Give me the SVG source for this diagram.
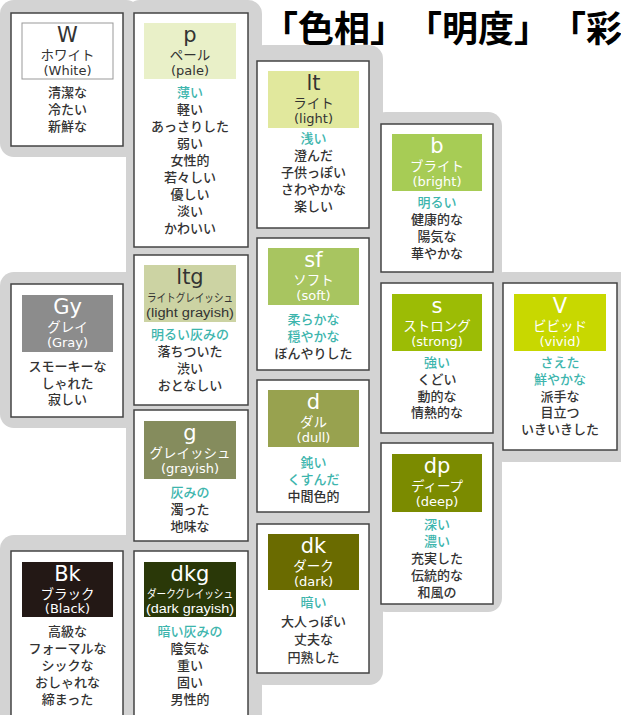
<svg xmlns="http://www.w3.org/2000/svg" width="621" height="715" viewBox="0 0 621 715">
<style>
.bg{fill:#d3d3d3}
.box{fill:#fff;stroke:#444;stroke-width:1.5}
text{font-family:"Liberation Sans","Noto Sans CJK JP",sans-serif;text-anchor:middle}
.big{font-family:"DejaVu Sans","Noto Sans CJK JP",sans-serif;font-size:21px}
.kana{font-size:13.5px}
.en{font-family:"DejaVu Sans","Noto Sans CJK JP",sans-serif;font-size:13px}
.d{font-size:13px;fill:#333;font-weight:500}
.t{font-size:13px;fill:#3db5ad;font-weight:500}
.w{fill:#fff}
.k{fill:#333}
.title{font-family:"Noto Sans CJK JP",sans-serif;font-size:36px;font-weight:bold;fill:#000;text-anchor:start;text-spacing-trim:space-all}
</style>
<g id="background">
<rect class="bg" x="0" y="0" width="140" height="157" rx="14"/>
<rect class="bg" x="126" y="0" width="136" height="730" rx="14"/>
<rect class="bg" x="250" y="45" width="133" height="640" rx="14"/>
<rect class="bg" x="372" y="112" width="130" height="500" rx="14"/>
<rect class="bg" x="490" y="272" width="150" height="190" rx="14"/>
<rect class="bg" x="0" y="272" width="140" height="156" rx="14"/>
<rect class="bg" x="0" y="535" width="140" height="200" rx="14"/>
</g>
<g id="title">
<text class="title" x="262" y="42">「色相」</text>
<text class="title" x="406" y="42">「明度」</text>
<text class="title" x="550" y="42">「彩</text>
</g>

<g id="W">
<rect class="box" x="11" y="13" width="112" height="133"/>
<rect x="22" y="23" width="91" height="56" fill="#fff" stroke="#999" stroke-width="1"/>
<text class="big k" x="67.5" y="42">W</text>
<text class="kana k" x="67.5" y="60">ホワイト</text>
<text class="en k" x="67.5" y="75">(White)</text>
<text class="d" x="67.5" y="97">清潔な</text>
<text class="d" x="67.5" y="114">冷たい</text>
<text class="d" x="67.5" y="131">新鮮な</text>
</g>

<g id="p">
<rect class="box" x="134" y="13" width="114" height="234"/>
<rect x="144" y="23" width="92" height="56" fill="#e9f0c8"/>
<text class="big k" x="190" y="42">p</text>
<text class="kana k" x="190" y="60">ペール</text>
<text class="en k" x="190" y="75">(pale)</text>
<text class="t" x="190" y="97">薄い</text>
<text class="d" x="190" y="114">軽い</text>
<text class="d" x="190" y="131">あっさりした</text>
<text class="d" x="190" y="148">弱い</text>
<text class="d" x="190" y="165">女性的</text>
<text class="d" x="190" y="182">若々しい</text>
<text class="d" x="190" y="199">優しい</text>
<text class="d" x="190" y="216">淡い</text>
<text class="d" x="190" y="233">かわいい</text>
</g>

<g id="lt">
<rect class="box" x="257" y="61" width="112" height="167"/>
<rect x="268" y="71" width="91" height="57" fill="#e1e89d"/>
<text class="big k" x="313.5" y="90">lt</text>
<text class="kana k" x="313.5" y="108">ライト</text>
<text class="en k" x="313.5" y="123">(light)</text>
<text class="t" x="313.5" y="143">浅い</text>
<text class="d" x="313.5" y="160">澄んだ</text>
<text class="d" x="313.5" y="177">子供っぽい</text>
<text class="d" x="313.5" y="194">さわやかな</text>
<text class="d" x="313.5" y="211">楽しい</text>
</g>

<g id="b">
<rect class="box" x="381" y="124" width="112" height="148"/>
<rect x="392" y="134" width="90" height="57" fill="#a7cc55"/>
<text class="big w" x="437" y="153">b</text>
<text class="kana w" x="437" y="171">ブライト</text>
<text class="en w" x="437" y="186">(bright)</text>
<text class="t" x="437" y="207">明るい</text>
<text class="d" x="437" y="224">健康的な</text>
<text class="d" x="437" y="241">陽気な</text>
<text class="d" x="437" y="258">華やかな</text>
</g>

<g id="Gy">
<rect class="box" x="11" y="284" width="112" height="133"/>
<rect x="22" y="295" width="91" height="57" fill="#8c8c8c"/>
<text class="big w" x="67.5" y="314">Gy</text>
<text class="kana w" x="67.5" y="332">グレイ</text>
<text class="en w" x="67.5" y="347">(Gray)</text>
<text class="d" x="67.5" y="371">スモーキーな</text>
<text class="d" x="67.5" y="387.5">しゃれた</text>
<text class="d" x="67.5" y="404">寂しい</text>
</g>

<g id="ltg">
<rect class="box" x="134" y="255" width="114" height="150"/>
<rect x="144" y="265" width="92" height="57" fill="#ccd3a3"/>
<text class="big k" x="190" y="284">ltg</text>
<text class="k" x="190" y="302" font-size="11.5" textLength="86" lengthAdjust="spacingAndGlyphs">ライトグレイッシュ</text>
<text class="k" x="190" y="317" font-size="12.5" textLength="88" lengthAdjust="spacingAndGlyphs">(light grayish)</text>
<text class="t" x="190" y="339">明るい灰みの</text>
<text class="d" x="190" y="356">落ちついた</text>
<text class="d" x="190" y="373">渋い</text>
<text class="d" x="190" y="390">おとなしい</text>
</g>

<g id="sf">
<rect class="box" x="257" y="238" width="112" height="132"/>
<rect x="268" y="248" width="91" height="57" fill="#a8c560"/>
<text class="big w" x="313.5" y="267">sf</text>
<text class="kana w" x="313.5" y="285">ソフト</text>
<text class="en w" x="313.5" y="300">(soft)</text>
<text class="t" x="313.5" y="324">柔らかな</text>
<text class="t" x="313.5" y="341">穏やかな</text>
<text class="d" x="313.5" y="358">ぼんやりした</text>
</g>

<g id="s">
<rect class="box" x="381" y="283" width="112" height="150"/>
<rect x="392" y="294" width="90" height="57" fill="#9cbc05"/>
<text class="big w" x="437" y="313">s</text>
<text class="kana w" x="437" y="331">ストロング</text>
<text class="en w" x="437" y="346">(strong)</text>
<text class="t" x="437" y="367">強い</text>
<text class="d" x="437" y="384">くどい</text>
<text class="d" x="437" y="400.5">動的な</text>
<text class="d" x="437" y="417">情熱的な</text>
</g>

<g id="V">
<rect class="box" x="503" y="283" width="114" height="167"/>
<rect x="514" y="294" width="92" height="57" fill="#c8d800"/>
<text class="big w" x="560" y="313">V</text>
<text class="kana w" x="560" y="331">ビビッド</text>
<text class="en w" x="560" y="346">(vivid)</text>
<text class="t" x="560" y="367">さえた</text>
<text class="t" x="560" y="384">鮮やかな</text>
<text class="d" x="560" y="400.5">派手な</text>
<text class="d" x="560" y="417">目立つ</text>
<text class="d" x="560" y="434">いきいきした</text>
</g>

<g id="g">
<rect class="box" x="134" y="410" width="114" height="131"/>
<rect x="144" y="421" width="92" height="58" fill="#858c5d"/>
<text class="big w" x="190" y="440">g</text>
<text class="kana w" x="190" y="458">グレイッシュ</text>
<text class="en w" x="190" y="473">(grayish)</text>
<text class="t" x="190" y="497">灰みの</text>
<text class="d" x="190" y="514">濁った</text>
<text class="d" x="190" y="531">地味な</text>
</g>

<g id="d">
<rect class="box" x="257" y="380" width="112" height="132"/>
<rect x="268" y="390" width="91" height="57" fill="#98a24f"/>
<text class="big w" x="313.5" y="409">d</text>
<text class="kana w" x="313.5" y="427">ダル</text>
<text class="en w" x="313.5" y="442">(dull)</text>
<text class="t" x="313.5" y="467">鈍い</text>
<text class="t" x="313.5" y="484">くすんだ</text>
<text class="d" x="313.5" y="501">中間色的</text>
</g>

<g id="dp">
<rect class="box" x="381" y="443" width="112" height="161"/>
<rect x="392" y="454" width="90" height="58" fill="#7b8b00"/>
<text class="big w" x="437" y="473">dp</text>
<text class="kana w" x="437" y="491">ディープ</text>
<text class="en w" x="437" y="506">(deep)</text>
<text class="t" x="437" y="529">深い</text>
<text class="t" x="437" y="546">濃い</text>
<text class="d" x="437" y="563">充実した</text>
<text class="d" x="437" y="580">伝統的な</text>
<text class="d" x="437" y="597">和風の</text>
</g>

<g id="Bk">
<rect class="box" x="11" y="551" width="112" height="180"/>
<rect x="22" y="562" width="91" height="55" fill="#231815"/>
<text class="big w" x="67.5" y="581">Bk</text>
<text class="kana w" x="67.5" y="599">ブラック</text>
<text class="en w" x="67.5" y="613">(Black)</text>
<text class="d" x="67.5" y="636">高級な</text>
<text class="d" x="67.5" y="653">フォーマルな</text>
<text class="d" x="67.5" y="670">シックな</text>
<text class="d" x="67.5" y="687">おしゃれな</text>
<text class="d" x="67.5" y="704">締まった</text>
</g>

<g id="dkg">
<rect class="box" x="134" y="551" width="114" height="180"/>
<rect x="144" y="562" width="92" height="55" fill="#2a3808"/>
<text class="big w" x="190" y="581">dkg</text>
<text class="w" x="190" y="598" font-size="11.5" textLength="86" lengthAdjust="spacingAndGlyphs">ダークグレイッシュ</text>
<text class="w" x="190" y="613" font-size="12.5" textLength="88" lengthAdjust="spacingAndGlyphs">(dark grayish)</text>
<text class="t" x="190" y="636">暗い灰みの</text>
<text class="d" x="190" y="653">陰気な</text>
<text class="d" x="190" y="670">重い</text>
<text class="d" x="190" y="687">固い</text>
<text class="d" x="190" y="704">男性的</text>
</g>

<g id="dk">
<rect class="box" x="257" y="524" width="112" height="149"/>
<rect x="268" y="534" width="91" height="56" fill="#6a6b00"/>
<text class="big w" x="313.5" y="553">dk</text>
<text class="kana w" x="313.5" y="571">ダーク</text>
<text class="en w" x="313.5" y="586">(dark)</text>
<text class="t" x="313.5" y="607">暗い</text>
<text class="d" x="313.5" y="626">大人っぽい</text>
<text class="d" x="313.5" y="644">丈夫な</text>
<text class="d" x="313.5" y="662">円熟した</text>
</g>
<g id="connectors"/>
</svg>
